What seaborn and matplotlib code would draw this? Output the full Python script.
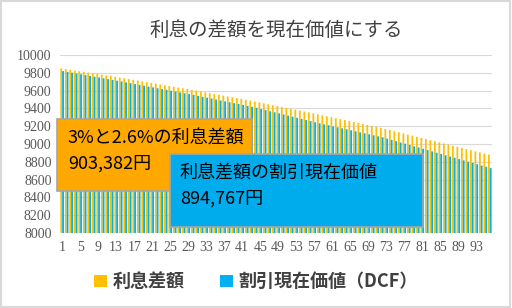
import pandas as pd
import matplotlib
matplotlib.use("Agg")
import matplotlib.pyplot as plt
import seaborn as sns
from matplotlib.patches import Rectangle

# 期間 (1..96)
periods = list(range(1, 97))

# 利息差額
interest_diff = [
    9849, 9841, 9833, 9826, 9818, 9810, 9802, 9794, 9787, 9779, 9771, 9763, 9755,
    9746, 9738, 9729, 9721, 9712, 9703, 9695, 9686, 9678, 9669, 9660, 9652, 9643, 9634, 9626, 9617,
    9608, 9599, 9589, 9580, 9571, 9562, 9553, 9543, 9534, 9525, 9516, 9507, 9497, 9488,
    9478, 9467, 9457, 9447, 9436, 9426, 9416, 9406, 9395, 9385, 9375, 9364, 9354, 9344, 9333,
    9322, 9311, 9301, 9290, 9279, 9268, 9257, 9247, 9236, 9225, 9214, 9204, 9193, 9182,
    9169, 9157, 9144, 9132, 9119, 9106, 9094, 9081, 9068, 9056, 9043, 9031, 9018, 9005,
    8993, 8980, 8968, 8955, 8942, 8930, 8917, 8905, 8892, 8880,
]

# 割引現在価値 (DCF)
dcf = [
    9819, 9810, 9801, 9792, 9783, 9774, 9765, 9756, 9747, 9738, 9729, 9720, 9711,
    9702, 9692, 9683, 9673, 9664, 9655, 9645, 9636, 9626, 9617, 9608, 9598, 9589, 9579, 9570, 9561,
    9551, 9540, 9530, 9520, 9510, 9500, 9489, 9479, 9469, 9459, 9449, 9438, 9428, 9418,
    9406, 9393, 9381, 9368, 9356, 9344, 9331, 9319, 9306, 9294, 9282, 9269, 9257, 9244, 9232,
    9221, 9210, 9198, 9187, 9176, 9165, 9154, 9142, 9131, 9120, 9109, 9098, 9086, 9075,
    9061, 9046, 9032, 9017, 9003, 8989, 8974, 8960, 8945, 8931, 8917, 8902, 8888, 8873,
    8859, 8845, 8830, 8816, 8801, 8787, 8773, 8758, 8744, 8729,
]

series_names = ["利息差額", "割引現在価値（DCF）"]
box_texts = ["3%と2.6%の利息差額\n903,382円", "利息差額の割引現在価値\n894,767円"]

df = pd.DataFrame({
    "period": periods * 2,
    "value": interest_diff + dcf,
    "series": [series_names[0]] * len(periods) + [series_names[1]] * len(periods),
})

sns.set_theme(style="white")
plt.rcParams["font.family"] = ["Noto Sans CJK JP", "DejaVu Sans"]

fig = plt.figure(figsize=(5.12, 3.08), dpi=100)
ax = fig.add_axes([0.117, 0.2435, 0.844, 0.578])

sns.barplot(data=df, x="period", y="value", hue="series",
            palette=["#FFC000", "#00B0F0"], width=0.8,
            saturation=1, ax=ax, legend=True)
for p in ax.patches:
    p.set_snap(False)
    p.set_linewidth(0)

ax.set_ylim(8000, 10000)
ax.set_yticks(range(8000, 10001, 200))
ax.set_yticklabels([str(v) for v in range(8000, 10001, 200)],
                   family="Liberation Serif", fontsize=10, color="#595959")
ax.set_xlim(-0.5, len(periods) - 0.5)
ax.set_xticks(range(0, len(periods), 4))
ax.set_xticklabels([str(p) for p in periods[::4]],
                   family="Liberation Serif", fontsize=10, color="#595959")
ax.tick_params(length=0, pad=6)
ax.set_xlabel("")
ax.set_ylabel("")
ax.yaxis.grid(True, color="#d9d9d9", linewidth=0.8)
ax.set_axisbelow(True)
for s in ax.spines.values():
    s.set_visible(False)

ax.set_title("利息の差額を現在価値にする", fontsize=14, color="#404040",
             pad=14)

# 凡例
handles, labels = ax.get_legend_handles_labels()
ax.get_legend().remove()
fig.legend(handles, labels, loc="center", bbox_to_anchor=(0.5, 0.085), ncol=2,
           frameon=False, handlelength=0.7, handleheight=0.7,
           handletextpad=0.3, columnspacing=2.0, labelcolor="#404040",
           prop={"weight": "bold", "size": 13})

# 注記ボックス
fig.patches.append(Rectangle((57 / 512, 1 - 191 / 308), 195 / 512, 72 / 308,
                             transform=fig.transFigure, facecolor="#FFA800",
                             edgecolor="#a6a6a6", linewidth=1.2, zorder=5))
fig.text(68 / 512, 1 - 151 / 308, box_texts[0], fontsize=13, color="black",
         va="center", ha="left", linespacing=1.45, zorder=6)
fig.patches.append(Rectangle((170 / 512, 1 - 227 / 308), 253 / 512, 73 / 308,
                             transform=fig.transFigure, facecolor="#00ACEB",
                             edgecolor="#a6a6a6", linewidth=1.2, zorder=7))
fig.text(180 / 512, 1 - 186 / 308, box_texts[1], fontsize=13, color="black",
         va="center", ha="left", linespacing=1.45, zorder=8)

# 外枠
fig.patches.append(Rectangle((0.002, 0.003), 0.995, 0.993, transform=fig.transFigure,
                             fill=False, edgecolor="#d9d9d9", linewidth=1.5))

fig.savefig("out.png", dpi=100)
plt.close(fig)
